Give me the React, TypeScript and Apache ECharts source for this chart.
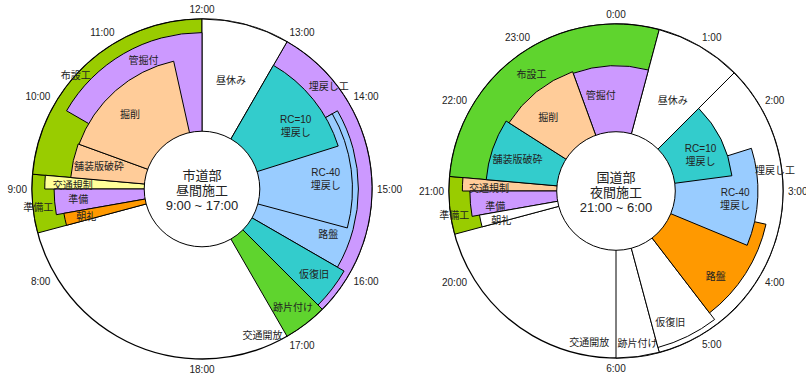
import React, { useEffect, useRef } from 'react';
import * as echarts from 'echarts';

// ---------------- DATA ----------------
// Left dial: 市道部 昼間施工 (dial runs 6:00 → 18:00)
const dayTitle = ['市道部', '昼間施工', '9:00 ~ 17:00'];
const dayTasks = ['準備工', '布設工', '埋戻し工', '跡片付け', '昼休み', '交通開放', '管掘付', '交通規制', '路盤', '仮復旧', '準備', 'RC-40\n埋戻し', '朝礼', '舗装版破砕', '掘削', 'RC=10\n埋戻し'];
const dayStart = ['8:30', '9:10', '13:00', '16:30', '12:00', '17:00', '10:00', '9:00', '14:00', '16:00', '8:40', '14:00', '8:30', '9:10', '9:40', '13:00'];
const dayEnd = ['9:10', '12:00', '16:30', '17:00', '13:00', '17:30', '12:00', '9:10', '16:00', '16:30', '9:00', '15:30', '8:40', '9:40', '11:35', '14:25'];
const dayHourLabels = ['18:00', '', '8:00', '9:00', '10:00', '11:00', '12:00', '13:00', '14:00', '15:00', '16:00', '17:00', ''];

// Right dial: 国道部 夜間施工 (dial runs 18:00 → 6:00)
const nightTitle = ['国道部', '夜間施工', '21:00 ~ 6:00'];
const nightTasks = ['準備工', '布設工', '昼休み', '埋戻し工', '跡片付け', '交通開放', '仮復旧', '路盤', '交通規制', '管掘付', 'RC-40\n埋戻し', '準備', '朝礼', '舗装版破砕', '掘削', 'RC=10\n埋戻し'];
const nightStart = ['20:30', '21:10', '0:30', '1:30', '5:30', '6:00', '4:45', '3:25', '21:00', '23:20', '2:25', '20:40', '20:30', '21:10', '22:05', '1:30'];
const nightEnd = ['21:10', '0:30', '1:30', '5:30', '6:00', '6:40', '5:30', '4:45', '21:10', '0:30', '3:45', '21:00', '20:40', '22:05', '23:20', '2:45'];
const nightHourLabels = ['6:00', '', '20:00', '21:00', '22:00', '23:00', '0:00', '1:00', '2:00', '3:00', '4:00', '5:00', ''];

// ---------------- STYLE / LAYOUT ----------------
const LIME = '#99CC00';
const GREEN = '#5FD42E';
const PURPLE = '#CC99FF';
const PEACH = '#FFCC99';
const TEAL = '#33CCCC';
const SKY = '#99CCFF';
const ORANGE = '#FF9900';
const YELLOW = '#FFFF99';
const WHITE = '#FFFFFF';
const NONE = 'none';
const FONT = '"Liberation Sans", "Noto Sans CJK JP", sans-serif';

// per piece: outer radius (% of dial), fill, stroke, label radius (%), label time
const dayStyle: [number, string, string, number, string][] = [
  [100, LIME, '#000', 97, '8:47'],
  [100, LIME, '#000', 100, '10:24'],
  [100, PURPLE, '#000', 96, '13:42'],
  [100, GREEN, '#000', 88, '16:45'],
  [100, WHITE, '#000', 66, '12:30'],
  [100, NONE, NONE, 93, '17:15'],
  [92, PURPLE, '#000', 83, '11:11'],
  [92.5, YELLOW, '#000', 76, '9:03'],
  [92, SKY, '#000', 79, '15:40'],
  [96.5, TEAL, '#000', 83, '16:15'],
  [87, PURPLE, '#000', 73, '8:50'],
  [88.5, SKY, '#000', 73, '14:51'],
  [82.5, ORANGE, '#000', 70, '8:33'],
  [77.5, PEACH, '#000', 62, '9:25'],
  [77, PEACH, '#000', 61, '10:32'],
  [84, TEAL, '#000', 66.5, '13:52'],
];
const nightStyle: [number, string, string, number, string][] = [
  [100, LIME, '#000', 98, '20:43'],
  [100, GREEN, '#000', 86, '22:48'],
  [100, WHITE, '#000', 64, '1:04'],
  [100, WHITE, '#000', 96, '2:45'],
  [100, WHITE, '#000', 92, '5:44'],
  [100, NONE, NONE, 92, '6:20'],
  [97, WHITE, '#000', 85, '5:15'],
  [92, ORANGE, '#000', 78.5, '4:21'],
  [92, PEACH, '#000', 76, '21:02'],
  [75, PURPLE, '#000', 58, '23:42'],
  [85, SKY, '#000', 71.5, '3:08'],
  [87.5, PURPLE, '#000', 73, '20:45'],
  [83, WHITE, '#000', 71, '20:31'],
  [78, TEAL, '#000', 62, '21:36'],
  [76, PEACH, '#000', 60, '22:35'],
  [70, TEAL, '#000', 55, '2:14'],
];

const toHour = (s: string, min: number) => {
  const [h, m] = s.split(':').map(Number);
  let v = h + m / 60;
  if (v < min) v += 24;
  return v;
};

const buildData = (start: string[], end: string[], style: any[], min: number) =>
  start.map((s, i) => [style[i][0], toHour(s, min), toHour(end[i], min), style[i][3], toHour(style[i][4], min)]);

const makeRender = (names: string[], style: any[]) => (params: any, api: any) => {
  const cs = params.coordSys;
  const cx = cs.cx;
  const cy = cs.cy;
  const i = params.dataIndex;
  const r = api.value(0);
  const p0 = api.coord([r, api.value(1)]);
  const p1 = api.coord([r, api.value(2)]);
  const a0 = Math.atan2(p0[1] - cy, p0[0] - cx);
  let a1 = Math.atan2(p1[1] - cy, p1[0] - cx);
  while (a1 <= a0) a1 += Math.PI * 2;
  const rad = Math.hypot(p0[0] - cx, p0[1] - cy);
  const lp = api.coord([api.value(3), api.value(4)]);
  return {
    type: 'group',
    children: [
      {
        type: 'sector',
        z2: i,
        shape: { cx, cy, r0: 0, r: rad, startAngle: a0, endAngle: a1, clockwise: true },
        style: { fill: style[i][1], stroke: style[i][2], lineWidth: 1 },
      },
      {
        type: 'text',
        z2: 100,
        x: lp[0],
        y: lp[1],
        style: {
          text: names[i],
          fill: '#222',
          fontSize: 10,
          fontFamily: FONT,
          align: 'center',
          verticalAlign: 'middle',
          lineHeight: 13,
        },
      },
    ],
  };
};

const makeHole = (title: string[]) => (params: any, api: any) => {
  const cs = params.coordSys;
  const p = api.coord([api.value(0), 0]);
  const rad = Math.hypot(p[0] - cs.cx, p[1] - cs.cy);
  return {
    type: 'group',
    children: [
      { type: 'circle', shape: { cx: cs.cx, cy: cs.cy, r: rad }, style: { fill: '#fff', stroke: '#000', lineWidth: 1 } },
      {
        type: 'text',
        x: cs.cx,
        y: cs.cy + 1,
        style: {
          text: title.join('\n'),
          fill: '#222',
          fontSize: 13,
          fontFamily: FONT,
          align: 'center',
          verticalAlign: 'middle',
          lineHeight: 15,
        },
      },
    ],
  };
};

const angleAxisCfg = (polarIndex: number, min: number, labels: string[]) => ({
  polarIndex,
  type: 'value',
  min,
  max: min + 12,
  interval: 1,
  startAngle: 270,
  clockwise: true,
  axisLine: { show: true, lineStyle: { color: '#000', width: 1.3 } },
  axisTick: { show: false },
  splitLine: { show: false },
  axisLabel: {
    margin: 5,
    color: '#222',
    fontSize: 10,
    fontFamily: FONT,
    formatter: (v: number) => labels[Math.round(v - min)] ?? '',
  },
});

export default function App() {
  const ref = useRef<HTMLDivElement>(null);
  useEffect(() => {
    const chart = echarts.init(ref.current!, undefined, { renderer: 'svg' });
    chart.setOption({
      animation: false,
      backgroundColor: '#fff',
      polar: [
        { center: [202, 189], radius: [0, 170] },
        { center: [616, 191], radius: [0, 167] },
      ],
      angleAxis: [angleAxisCfg(0, 6, dayHourLabels), angleAxisCfg(1, 18, nightHourLabels)],
      radiusAxis: [
        { polarIndex: 0, type: 'value', min: 0, max: 100, show: false },
        { polarIndex: 1, type: 'value', min: 0, max: 100, show: false },
      ],
      series: [
        {
          type: 'custom',
          coordinateSystem: 'polar',
          polarIndex: 0,
          silent: true,
          data: buildData(dayStart, dayEnd, dayStyle, 6),
          renderItem: makeRender(dayTasks, dayStyle),
        },
        {
          type: 'custom',
          coordinateSystem: 'polar',
          polarIndex: 1,
          silent: true,
          data: buildData(nightStart, nightEnd, nightStyle, 18),
          renderItem: makeRender(nightTasks, nightStyle),
        },
        {
          type: 'custom',
          coordinateSystem: 'polar',
          polarIndex: 0,
          silent: true,
          z: 5,
          data: [[34, 12]],
          renderItem: makeHole(dayTitle),
        },
        {
          type: 'custom',
          coordinateSystem: 'polar',
          polarIndex: 1,
          silent: true,
          z: 5,
          data: [[35.5, 24]],
          renderItem: makeHole(nightTitle),
        },
      ],
    });
    return () => chart.dispose();
  }, []);
  return <div ref={ref} style={{ position: 'fixed', left: 0, top: 0, width: 806, height: 374 }} />;
}
